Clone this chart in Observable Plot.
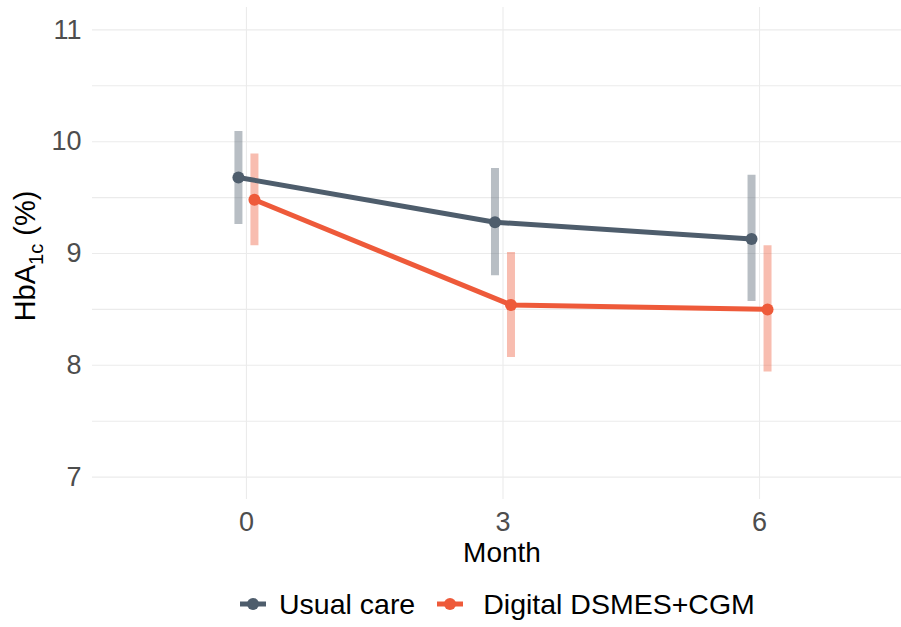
<!DOCTYPE html>
<html>
<head>
<meta charset="utf-8">
<script src="https://cdn.jsdelivr.net/npm/d3@7"></script>
<script src="https://cdn.jsdelivr.net/npm/@observablehq/plot@0.6"></script>
<style>
  html, body { margin: 0; padding: 0; background: #fff; }
  body { width: 901px; height: 627px; overflow: hidden; font-family: "Liberation Sans", Arial, Helvetica, sans-serif; }
  #legend { display: flex; align-items: center; height: 42px; margin-top: 3px; padding-left: 240px; font-size: 28.5px; line-height: 32px; color: #000; }
  #legend .item { display: flex; align-items: center; }
  #legend .item span { margin-left: 13px; }
  #legend .item + .item { margin-left: 22px; }
  #legend .item + .item span { margin-left: 20px; }
</style>
</head>
<body>
<div id="chart"></div>
<div id="legend"></div>
<script>
// ---- data ----
const months = [0, 3, 6];
const groups = ["Usual care", "Digital DSMES+CGM"];
const colors = ["#4e5d6c", "#ee5a3a"];
const usualMean = [9.68, 9.28, 9.13];
const usualLo = [9.26, 8.80, 8.57];
const usualHi = [10.09, 9.76, 9.70];
const digitalMean = [9.48, 8.54, 8.50];
const digitalLo = [9.07, 8.07, 7.94];
const digitalHi = [9.89, 9.01, 9.07];
const yTicks = [7, 8, 9, 10, 11];
const yGrid = [7, 7.5, 8, 8.5, 9, 9.5, 10, 10.5, 11];

const usual = months.map((m, i) => ({month: m, mean: usualMean[i], lo: usualLo[i], hi: usualHi[i]}));
const digital = months.map((m, i) => ({month: m, mean: digitalMean[i], lo: digitalLo[i], hi: digitalHi[i]}));

function seriesBars(data, color, dx) {
  return [
    Plot.ruleX(data, {x: "month", y1: "lo", y2: "hi", stroke: color, strokeOpacity: 0.4, strokeWidth: 8, dx})
  ];
}
function seriesLine(data, color, dx) {
  return [
    Plot.line(data, {x: "month", y: "mean", stroke: color, strokeWidth: 5, dx}),
    Plot.dot(data, {x: "month", y: "mean", fill: color, r: 6, dx})
  ];
}

const svg = Plot.plot({
  width: 901,
  height: 580,
  marginTop: 7,
  marginBottom: 81,
  marginLeft: 92,
  marginRight: 0,
  style: {fontFamily: "'Liberation Sans', Arial, Helvetica, sans-serif", background: "#fff"},
  x: {domain: [-1.8, 7.66]},
  y: {domain: [6.8, 11.2]},
  marks: [
    Plot.gridY(yGrid, {stroke: "#ebebeb", strokeOpacity: 1, strokeWidth: 1.1}),
    Plot.gridX(months, {stroke: "#ebebeb", strokeOpacity: 1, strokeWidth: 1.1}),
    Plot.axisY(yTicks, {tickSize: 0, tickPadding: 11, fontSize: 27, color: "#4d4d4d", label: null, tickFormat: d => String(d)}),
    Plot.axisX(months, {tickSize: 0, tickPadding: 12, fontSize: 27, color: "#4d4d4d", label: null, tickFormat: d => String(d)}),
    ...seriesBars(usual, colors[0], -8),
    ...seriesBars(digital, colors[1], 8),
    ...seriesLine(usual, colors[0], -8),
    ...seriesLine(digital, colors[1], 8)
  ]
});
document.getElementById("chart").appendChild(svg);

// axis titles
const s = d3.select(svg);
s.append("text")
  .attr("x", 502).attr("y", 562)
  .attr("text-anchor", "middle")
  .attr("fill", "#000")
  .style("font-size", "28px")
  .text("Month");
const yt = s.append("text")
  .attr("transform", "translate(35,256) rotate(-90)")
  .attr("text-anchor", "middle")
  .attr("fill", "#000")
  .style("font-size", "29px");
yt.append("tspan").text("HbA");
yt.append("tspan").attr("dy", 8).style("font-size", "20px").text("1c");
yt.append("tspan").attr("dy", -8).text(" (%)");

// legend
const legend = d3.select("#legend");
groups.forEach((g, i) => {
  const item = legend.append("div").attr("class", "item");
  const k = item.append("svg").attr("width", 26).attr("height", 16);
  k.append("line").attr("x1", 0).attr("x2", 26).attr("y1", 8).attr("y2", 8)
    .attr("stroke", colors[i]).attr("stroke-width", 5);
  k.append("circle").attr("cx", 13).attr("cy", 8).attr("r", 6).attr("fill", colors[i]);
  item.append("span").text(g);
});
</script>
</body>
</html>
